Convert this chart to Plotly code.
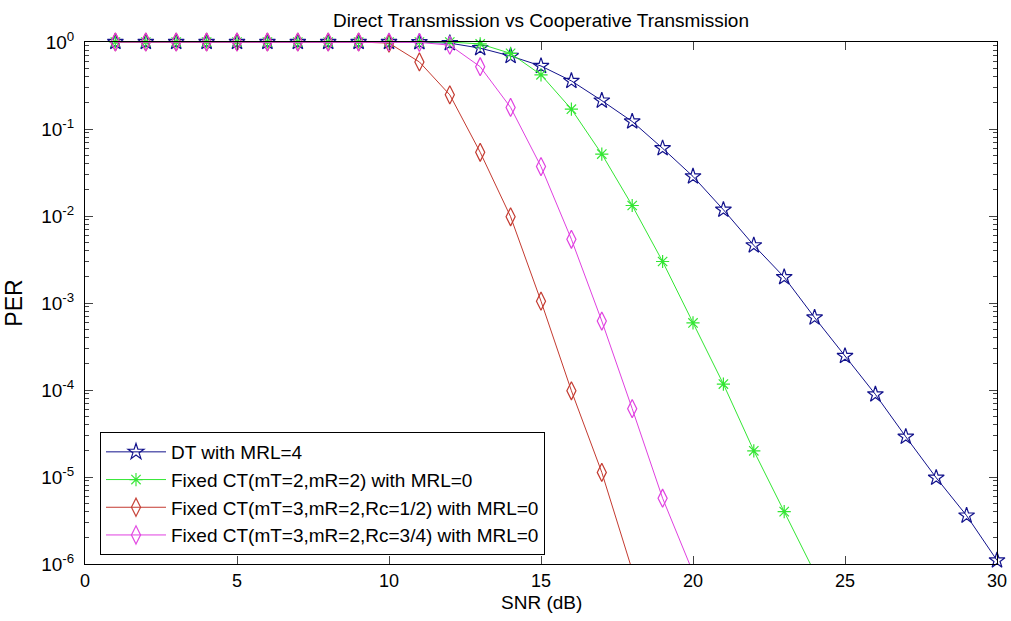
import plotly.graph_objects as go

snr = list(range(1, 31))

dt_mrl4 = [1, 1, 1, 1, 1, 1, 1, 1, 1, 1, 0.995, 0.97, 0.85, 0.69, 0.53, 0.357, 0.212,
           0.122, 0.060, 0.0285, 0.0118, 0.0046, 0.00198, 6.8e-4, 2.46e-4, 8.9e-5,
           2.9e-5, 9.8e-6, 3.6e-6, 1.1e-6]
ct_22 = [1, 1, 1, 1, 1, 1, 1, 1, 1, 1, 1, 1, 0.95, 0.74, 0.42, 0.169, 0.0515, 0.0132,
         0.003, 5.9e-4, 1.17e-4, 2.0e-5, 4.0e-6, 8e-7]
ct_32_half = [1, 1, 1, 1, 1, 1, 1, 1, 1, 0.97, 0.59, 0.247, 0.054, 0.0098, 1.05e-3,
              9.8e-5, 1.13e-5, 8.5e-7]
ct_32_3q = [1, 1, 1, 1, 1, 1, 1, 1, 1, 1, 0.99, 0.92, 0.52, 0.177, 0.037, 5.4e-3,
            6.2e-4, 6.1e-5, 5.7e-6, 8e-7]

names = ["DT with MRL=4",
         "Fixed CT(mT=2,mR=2) with MRL=0",
         "Fixed CT(mT=3,mR=2,Rc=1/2) with MRL=0",
         "Fixed CT(mT=3,mR=2,Rc=3/4) with MRL=0"]

x_ticks = [0, 5, 10, 15, 20, 25, 30]
y_tickvals = [1, 1e-1, 1e-2, 1e-3, 1e-4, 1e-5, 1e-6]
y_ticktext = ["10<sup>0</sup>", "10<sup>-1</sup>", "10<sup>-2</sup>", "10<sup>-3</sup>",
              "10<sup>-4</sup>", "10<sup>-5</sup>", "10<sup>-6</sup>"]

YMIN = 1e-6
series = [dt_mrl4, ct_22, ct_32_half, ct_32_3q]
colors = ["#12128c", "#33e633", "#c43a30", "#e040e0"]
symbols = ["star-open", "asterisk-open", "diamond-tall-open", "diamond-tall-open"]
sizes = [12, 11, 13, 13]

FONT = "Liberation Sans, Arial, sans-serif"
FS = 19
W, H = 1011, 621
ML, MR, MT, MB = 85, 14, 42, 57
PH = H - MT - MB

fig = go.Figure()
for vals, name, col, sym, sz in zip(series, names, colors, symbols, sizes):
    xs = snr[:len(vals)]
    op = [1 if v >= YMIN * 0.999 else 0 for v in vals]
    fig.add_trace(go.Scatter(
        x=xs, y=vals, name=name, mode="lines+markers",
        line=dict(color=col, width=1),
        marker=dict(symbol=sym, size=sz, opacity=op,
                    line=dict(color=col, width=1.2), color=col),
        cliponaxis=False,
    ))

minor_vals = [m * 10 ** e for e in range(-6, 0) for m in range(2, 10)]

fig.update_layout(
    width=W, height=H,
    margin=dict(l=ML, r=MR, t=MT, b=MB),
    paper_bgcolor="white", plot_bgcolor="white",
    font=dict(family=FONT, size=FS, color="black"),
    title=dict(text="Direct Transmission vs Cooperative Transmission",
               x=0.5, xref="paper", xanchor="center",
               y=1 - 20 / H, yanchor="middle",
               font=dict(size=FS)),
    showlegend=True,
    legend=dict(x=15 / (W - ML - MR), y=(H - MB - 432) / PH,
                xanchor="left", yanchor="top",
                bgcolor="white", bordercolor="black", borderwidth=1,
                font=dict(size=FS), itemwidth=60, tracegroupgap=0),
    annotations=[dict(text="SNR (dB)", xref="paper", yref="paper",
                      x=0.5, y=-38 / PH, xanchor="center", yanchor="middle",
                      showarrow=False, font=dict(family=FONT, size=FS))],
)
fig.update_xaxes(
    range=[0, 30], tickvals=x_ticks, ticks="inside", ticklen=8,
    ticklabelstandoff=0, tickfont=dict(size=18), automargin=False,
    showline=True, linecolor="black", linewidth=1, mirror="allticks",
    showgrid=False, zeroline=False,
)
fig.update_yaxes(
    type="log", range=[-6, 0], tickvals=y_tickvals, ticktext=y_ticktext,
    ticks="inside", ticklen=8, ticklabelstandoff=6, automargin=False,
    showline=True, linecolor="black", linewidth=1, mirror="allticks",
    showgrid=False, zeroline=False,
    minor=dict(tickvals=minor_vals, ticks="inside", ticklen=4, showgrid=False),
    title=dict(text="PER", standoff=12),
)

fig.write_html("out.html",
               config={"displayModeBar": False},
               post_script="document.body.style.margin='0';"
                           "document.body.style.overflow='hidden';")
